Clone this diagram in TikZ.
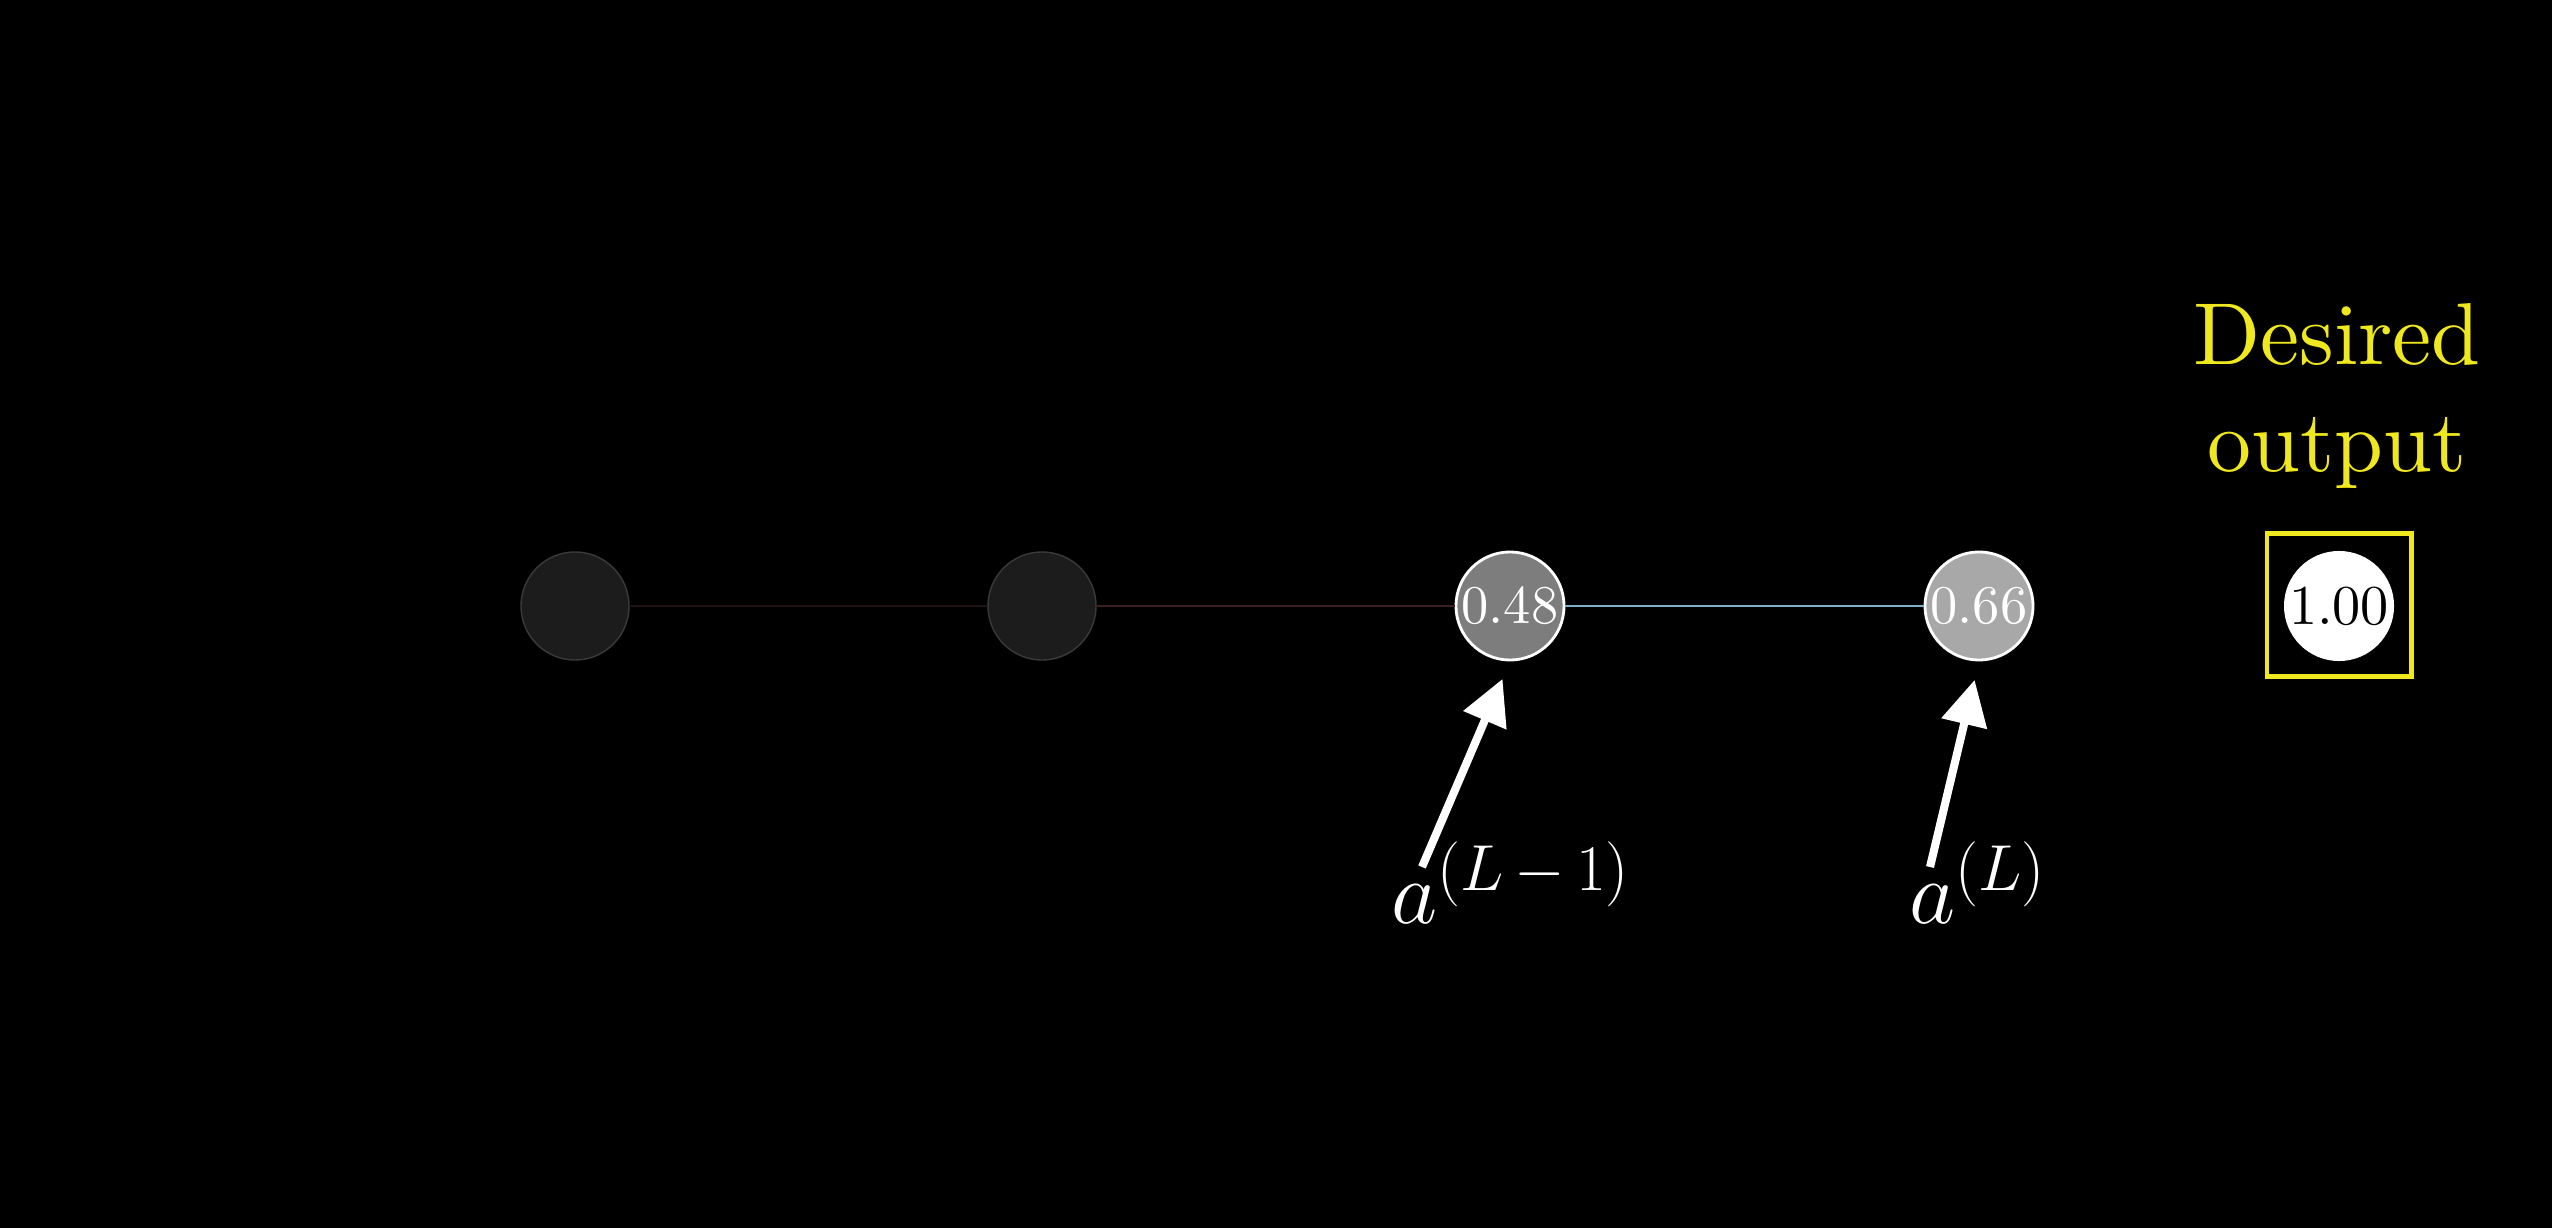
\RequirePackage{fix-cm}
\documentclass[tikz,border=0pt]{standalone}
\usepackage{fontspec}
\setmainfont{lmroman10-regular.otf}
\usetikzlibrary{arrows.meta}
\DeclareMathSizes{25.5}{25.5}{18.5}{12.75}
\definecolor{yel}{RGB}{240,232,30}
\definecolor{darkfill}{RGB}{28,28,28}
\definecolor{darkedge}{RGB}{58,58,58}
\definecolor{fillA}{RGB}{125,125,125}
\definecolor{fillB}{RGB}{168,168,168}
\definecolor{edgeA}{RGB}{30,18,18}
\definecolor{edgeB}{RGB}{62,32,32}
\definecolor{edgeC}{RGB}{122,176,200}
\tikzset{
  neuron/.style={circle, minimum size=1.08cm, inner sep=0pt},
  dimneuron/.style={neuron, fill=darkfill, draw=darkedge, line width=0.4pt},
  litneuron/.style={neuron, draw=white, line width=0.8pt, text=white,
     font=\fontsize{15.5}{18}\selectfont},
  conn/.style={line width=0.85pt},
  pointer/.style={draw=white, line width=2.3pt,
     -{Triangle[length=0.45cm, width=0.45cm]}, shorten >=0.19cm},
  lab/.style={text=white, inner sep=0pt, font=\fontsize{25.5}{30}\selectfont},
}
\begin{document}
\begin{tikzpicture}[x=0.01cm, y=-0.01cm]
  \fill[black] (0,0) rectangle (2552,1228);
  \useasboundingbox (0,0) rectangle (2552,1228);

  \node[dimneuron] (n1) at (575,606) {};
  \node[dimneuron] (n2) at (1042,606) {};
  \node[litneuron, fill=fillA] (n3) at (1510,606) {0.48};
  \node[litneuron, fill=fillB] (n4) at (1979,606) {0.66};

  \draw[conn, draw=edgeA] (n1) -- (n2);
  \draw[conn, draw=edgeB] (n2) -- (n3);
  \draw[conn, draw=edgeC] (n3) -- (n4);

  % desired output
  \node[circle, fill=white, minimum size=1.10cm, inner sep=0pt,
        font=\fontsize{16}{19}\selectfont, text=black] (out) at (2339,606) {1.00};
  \node[draw=yel, line width=1.4pt, minimum width=1.44cm, minimum height=1.42cm,
        inner sep=0pt] (box) at (2339,605) {};
  \node[text=yel, anchor=base, inner sep=0pt, font=\fontsize{25}{30}\selectfont]
        (des) at (2337,365) {Desired};
  \node[text=yel, anchor=base, inner sep=0pt, font=\fontsize{25}{30}\selectfont]
        (outp) at (2337,472) {output};

  % labels
  \node[lab, anchor=base] (l1) at (1511,923) {$a^{(L\mskip3mu{-}\mskip3mu1)}$};
  \node[lab, anchor=base] (l2) at (1978,923) {$a^{(L)}$};
  \coordinate (s1) at (1422,867);
  \coordinate (s2) at (1930,867);
  \draw[pointer] (s1) -- (n3.south);
  \draw[pointer] (s2) -- (n4.south);
\end{tikzpicture}
\end{document}
